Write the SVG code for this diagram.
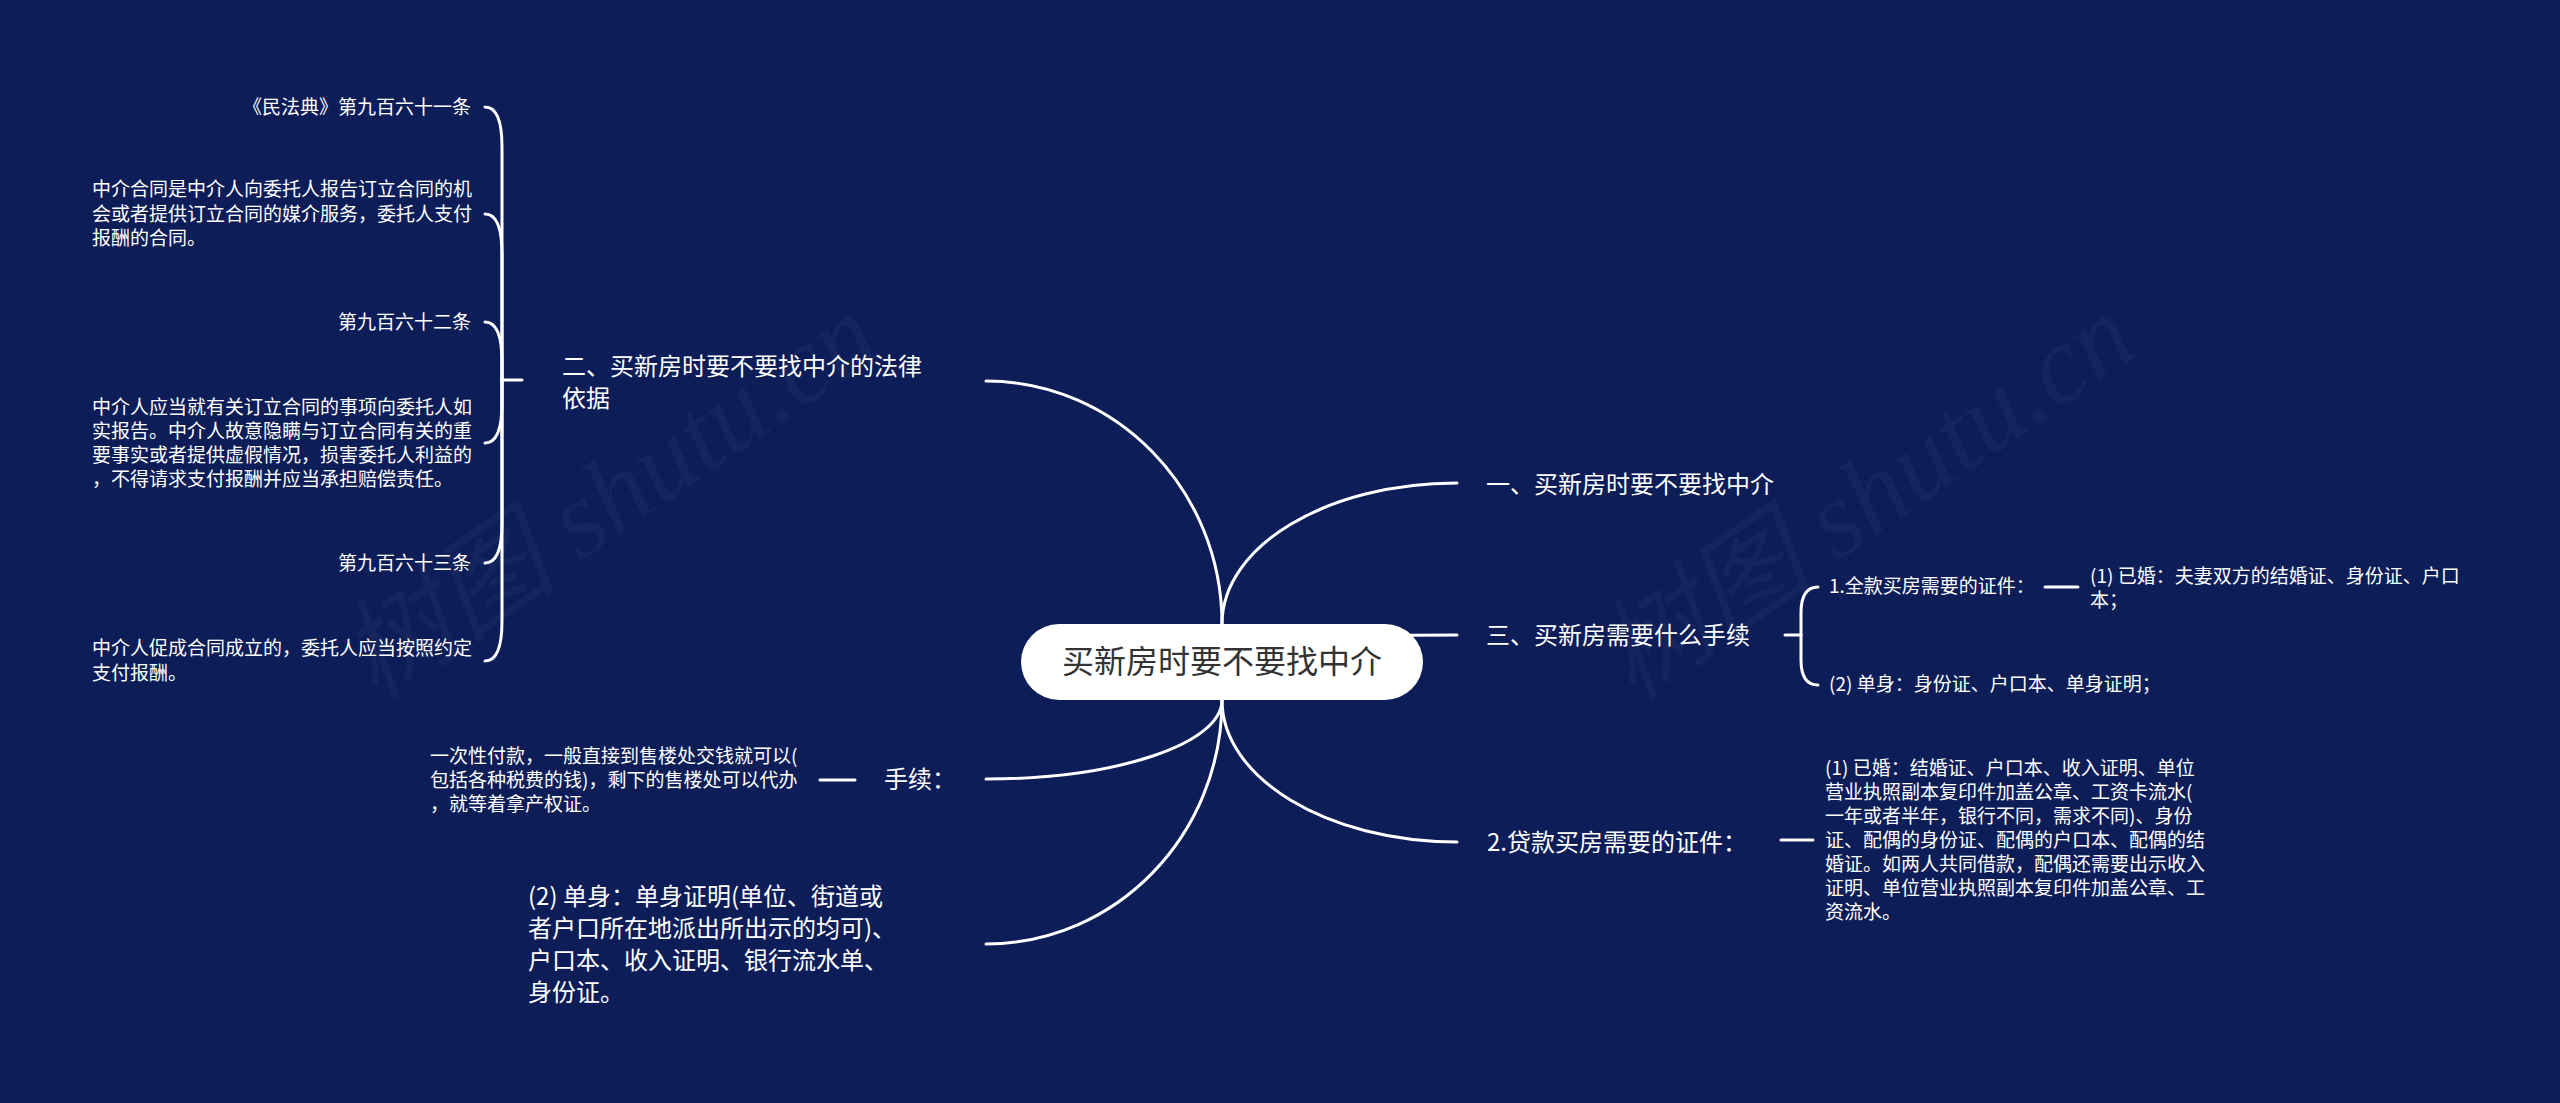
<svg xmlns="http://www.w3.org/2000/svg" width="2560" height="1103" viewBox="0 0 2560 1103">
<style>
text{font-family:"Noto Sans CJK SC","Noto Sans",sans-serif;fill:#ffffff}
.t1{font-size:24px}
.t2{font-size:19px}
.root{font-size:32px;fill:#333333}
.c{fill:none;stroke:#ffffff;stroke-width:3;stroke-linecap:round}
.wm{font-size:110px;fill:#ffffff;fill-opacity:0.035;font-family:"Liberation Serif","Noto Sans CJK SC",serif;font-style:italic}
</style>
<rect width="2560" height="1103" fill="#0c1d58"/>
<g id="watermark">
<text class="wm" transform="translate(376,702) rotate(-34.5)">树图 shutu.cn</text>
<text class="wm" transform="translate(1633,702) rotate(-34.5)">树图 shutu.cn</text>
</g>
<g id="connectors">
<path class="c" d="M1222,662 V624 C1222,490 1116,381 986,381"/>
<path class="c" d="M1222,662 V624 C1222,546 1327,483 1457,483"/>
<path class="c" d="M1222,662 C1222,640 1300,635 1457,635"/>
<path class="c" d="M1222,662 V700 C1222,778 1327,842 1457,842"/>
<path class="c" d="M1222,662 V700 C1222,744 1116,779 986,779"/>
<path class="c" d="M1222,662 V700 C1222,835 1116,944 986,944"/>
<path class="c" d="M522,380 H502"/>
<path class="c" d="M502,380 V147 Q502,107 485,107"/>
<path class="c" d="M502,380 V254 Q502,214 485,214"/>
<path class="c" d="M502,380 V362 Q502,322 485,322"/>
<path class="c" d="M502,380 V403 Q502,443 485,443"/>
<path class="c" d="M502,380 V523 Q502,563 485,563"/>
<path class="c" d="M502,380 V621 Q502,661 485,661"/>
<path class="c" d="M1785,635 H1801"/>
<path class="c" d="M1801,635 V613 Q1801,587 1818,587"/>
<path class="c" d="M1801,635 V660 Q1801,685 1818,685"/>
<path class="c" d="M2045,587 H2078"/>
<path class="c" d="M1781,840 H1813"/>
<path class="c" d="M855,780 H820"/>
</g>
<g id="root">
<rect x="1021" y="624" width="402" height="76" rx="38" fill="#ffffff"/>
<text class="root" x="1222" y="673" text-anchor="middle">买新房时要不要找中介</text>
</g>
<g id="n-law">
<text class="t1"><tspan x="562" y="375">二、买新房时要不要找中介的法律</tspan><tspan x="562" y="407">依据</tspan></text>
</g>
<g id="n-961">
<text class="t2" x="471" y="114" text-anchor="end">《民法典》第九百六十一条</text>
</g>
<g id="n-961-text">
<text class="t2"><tspan x="92" y="196">中介合同是中介人向委托人报告订立合同的机</tspan><tspan x="92" y="221">会或者提供订立合同的媒介服务，委托人支付</tspan><tspan x="92" y="245">报酬的合同。</tspan></text>
</g>
<g id="n-962">
<text class="t2" x="471" y="329" text-anchor="end">第九百六十二条</text>
</g>
<g id="n-962-text">
<text class="t2"><tspan x="92" y="414">中介人应当就有关订立合同的事项向委托人如</tspan><tspan x="92" y="438">实报告。中介人故意隐瞒与订立合同有关的重</tspan><tspan x="92" y="462">要事实或者提供虚假情况，损害委托人利益的</tspan><tspan x="92" y="486">，不得请求支付报酬并应当承担赔偿责任。</tspan></text>
</g>
<g id="n-963">
<text class="t2" x="471" y="570" text-anchor="end">第九百六十三条</text>
</g>
<g id="n-963-text">
<text class="t2"><tspan x="92" y="655">中介人促成合同成立的，委托人应当按照约定</tspan><tspan x="92" y="680">支付报酬。</tspan></text>
</g>
<g id="n-procedure">
<text class="t1" x="884" y="788">手续：</text>
</g>
<g id="n-onetime">
<text class="t2"><tspan x="430" y="763">一次性付款，一般直接到售楼处交钱就可以(</tspan><tspan x="430" y="787">包括各种税费的钱)，剩下的售楼处可以代办</tspan><tspan x="430" y="811">，就等着拿产权证。</tspan></text>
</g>
<g id="n-single-left">
<text class="t1"><tspan x="528" y="905">(2) 单身：单身证明(单位、街道或</tspan><tspan x="528" y="937">者户口所在地派出所出示的均可)、</tspan><tspan x="528" y="969">户口本、收入证明、银行流水单、</tspan><tspan x="528" y="1001">身份证。</tspan></text>
</g>
<g id="n-one">
<text class="t1" x="1486" y="493">一、买新房时要不要找中介</text>
</g>
<g id="n-three">
<text class="t1" x="1486" y="644">三、买新房需要什么手续</text>
</g>
<g id="n-fullpay">
<text class="t2" x="1829" y="593">1.全款买房需要的证件：</text>
</g>
<g id="n-fullpay-married">
<text class="t2"><tspan x="2090" y="583">(1) 已婚：夫妻双方的结婚证、身份证、户口</tspan><tspan x="2090" y="607">本；</tspan></text>
</g>
<g id="n-single-right">
<text class="t2" x="1829" y="691">(2) 单身：身份证、户口本、单身证明；</text>
</g>
<g id="n-loan">
<text class="t1" x="1487" y="851">2.贷款买房需要的证件：</text>
</g>
<g id="n-loan-married">
<text class="t2"><tspan x="1825" y="775">(1) 已婚：结婚证、户口本、收入证明、单位</tspan><tspan x="1825" y="799">营业执照副本复印件加盖公章、工资卡流水(</tspan><tspan x="1825" y="823">一年或者半年，银行不同，需求不同)、身份</tspan><tspan x="1825" y="847">证、配偶的身份证、配偶的户口本、配偶的结</tspan><tspan x="1825" y="871">婚证。如两人共同借款，配偶还需要出示收入</tspan><tspan x="1825" y="895">证明、单位营业执照副本复印件加盖公章、工</tspan><tspan x="1825" y="919">资流水。</tspan></text>
</g>
</svg>
